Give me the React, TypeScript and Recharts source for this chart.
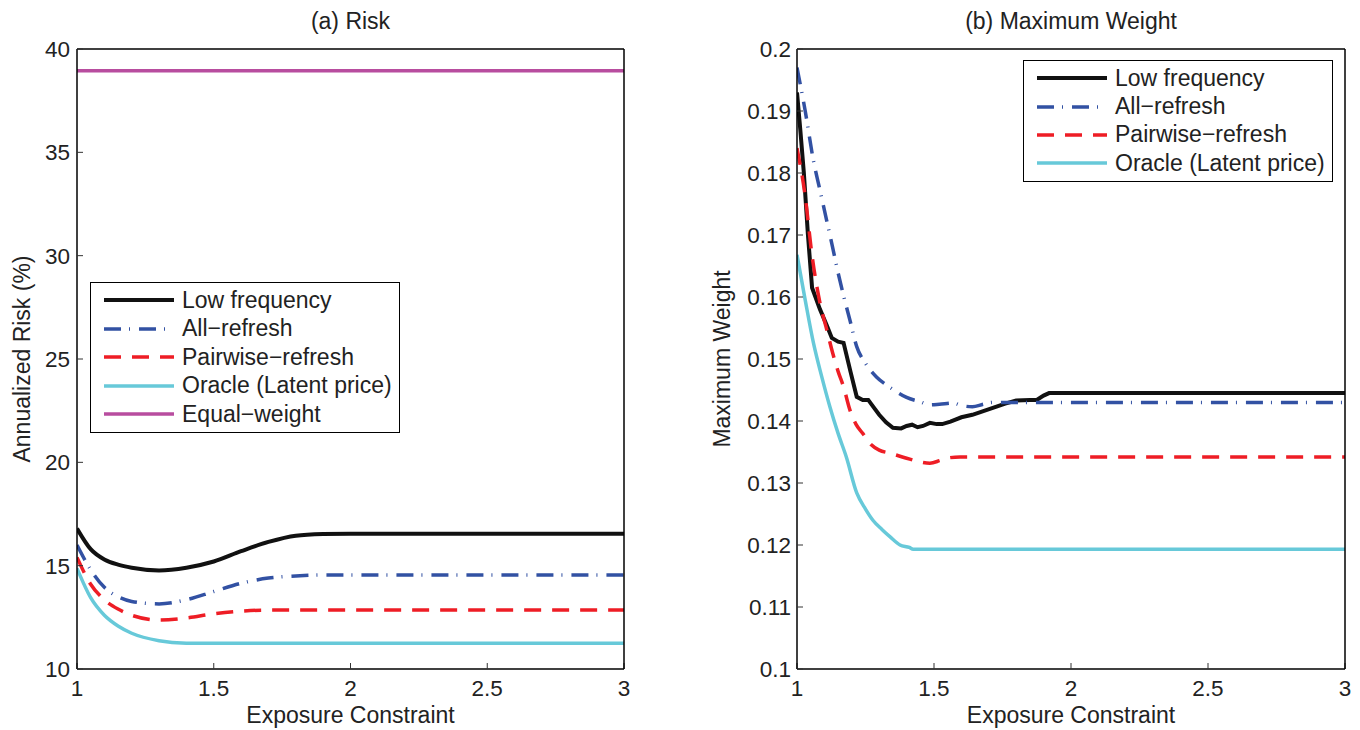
import { LineChart, Line, XAxis, YAxis, Legend, Label } from 'recharts';

const FONT = '"Liberation Sans", Arial, Helvetica, sans-serif';

// shared x axis
const xTicks = [1, 1.5, 2, 2.5, 3];
const xTickLabels = ['1', '1.5', '2', '2.5', '3'];

// (a) Risk
const riskTicks = [10, 15, 20, 25, 30, 35, 40];
const riskTickLabels = ['10', '15', '20', '25', '30', '35', '40'];
const riskX = [1, 1.05, 1.1, 1.15, 1.2, 1.3, 1.4, 1.5, 1.6, 1.7, 1.8, 1.9, 2, 2.5, 3];
const riskLow = [16.8, 15.8, 15.3, 15.05, 14.9, 14.77, 14.9, 15.2, 15.7, 16.15, 16.45, 16.53, 16.55, 16.55, 16.55];
const riskAll = [16.0, 14.8, 13.95, 13.5, 13.27, 13.15, 13.35, 13.75, 14.15, 14.4, 14.5, 14.55, 14.55, 14.55, 14.55];
const riskPair = [15.4, 14.1, 13.35, 12.9, 12.6, 12.37, 12.47, 12.67, 12.8, 12.85, 12.85, 12.85, 12.85, 12.85, 12.85];
const riskOracle = [14.87, 13.45, 12.6, 12.08, 11.73, 11.37, 11.25, 11.24, 11.24, 11.24, 11.24, 11.24, 11.24, 11.24, 11.24];
const equalX = [1, 3];
const riskEqual = [38.95, 38.95];

// (b) Maximum Weight
const weightTicks = [0.1, 0.11, 0.12, 0.13, 0.14, 0.15, 0.16, 0.17, 0.18, 0.19, 0.2];
const weightTickLabels = ['0.1', '0.11', '0.12', '0.13', '0.14', '0.15', '0.16', '0.17', '0.18', '0.19', '0.2'];
const wLowX = [1.0, 1.012, 1.025, 1.04, 1.055, 1.084, 1.11, 1.127, 1.15, 1.17, 1.195, 1.218, 1.24, 1.26, 1.28, 1.3, 1.325, 1.35, 1.38, 1.4, 1.42, 1.44, 1.46, 1.485, 1.51, 1.53, 1.56, 1.6, 1.64, 1.68, 1.72, 1.76, 1.8, 1.85, 1.875, 1.9, 1.92, 3.0];
const wLow = [0.193, 0.187, 0.18, 0.17, 0.1615, 0.158, 0.1553, 0.1534, 0.1528, 0.1526, 0.148, 0.1439, 0.1434, 0.1434, 0.1422, 0.141, 0.1398, 0.1389, 0.1388, 0.1392, 0.1394, 0.139, 0.1392, 0.1397, 0.1395, 0.1395, 0.1399, 0.1406, 0.141, 0.1416, 0.1422, 0.1428, 0.1433, 0.1434, 0.1434, 0.1441, 0.1445, 0.1445];
const wAllX = [1.0, 1.03, 1.06, 1.085, 1.108, 1.13, 1.15, 1.17, 1.193, 1.218, 1.25, 1.29, 1.33, 1.364, 1.4, 1.45, 1.485, 1.52, 1.57, 1.6, 1.64, 1.68, 1.716, 3.0];
const wAll = [0.197, 0.19, 0.182, 0.177, 0.1724, 0.168, 0.1639, 0.1602, 0.1563, 0.152, 0.1493, 0.1471, 0.1457, 0.1447, 0.1438, 0.1431, 0.1426, 0.1427, 0.1429, 0.1425, 0.1423, 0.1427, 0.143, 0.143];
const wPairX = [1.0, 1.03, 1.054, 1.084, 1.11, 1.13, 1.15, 1.17, 1.193, 1.215, 1.24, 1.27, 1.3, 1.34, 1.4, 1.44, 1.485, 1.52, 1.546, 1.595, 3.0];
const wPair = [0.184, 0.1762, 0.167, 0.159, 0.1545, 0.151, 0.148, 0.1455, 0.1418, 0.1395, 0.138, 0.1362, 0.1353, 0.1348, 0.134, 0.1335, 0.1332, 0.1336, 0.134, 0.1342, 0.1342];
const wOracleX = [1.0, 1.03, 1.06, 1.09, 1.12, 1.15, 1.18, 1.218, 1.25, 1.277, 1.31, 1.34, 1.376, 1.41, 1.424, 3.0];
const wOracle = [0.1668, 0.1595, 0.1526, 0.1472, 0.1423, 0.138, 0.1342, 0.1284, 0.1258, 0.124, 0.1225, 0.1213, 0.12, 0.1196, 0.1193, 0.1193];

const pts = (xs: number[], ys: number[]) => xs.map((x, i) => ({ x, y: ys[i] }));

// line styles
const LOW = { name: 'Low frequency', color: '#111111', width: 4, dash: undefined as string | undefined };
const ALL = { name: 'All\u2212refresh', color: '#3251a3', width: 3.5, dash: '17 8 1 9' };
const PAIR = { name: 'Pairwise\u2212refresh', color: '#ee1d25', width: 3.5, dash: '17 11' };
const ORACLE = { name: 'Oracle (Latent price)', color: '#67c9d9', width: 3.5, dash: undefined as string | undefined };
const EQUAL = { name: 'Equal\u2212weight', color: '#b84d9f', width: 3.5, dash: undefined as string | undefined };

type Series = typeof LOW & { data: { x: number; y: number }[]; curve: 'monotone' | 'linear' };

const riskSeries: Series[] = [
    { ...LOW, data: pts(riskX, riskLow), curve: 'monotone' },
    { ...ALL, data: pts(riskX, riskAll), curve: 'monotone' },
    { ...PAIR, data: pts(riskX, riskPair), curve: 'monotone' },
    { ...ORACLE, data: pts(riskX, riskOracle), curve: 'monotone' },
    { ...EQUAL, data: pts(equalX, riskEqual), curve: 'linear' },
];

const weightSeries: Series[] = [
    { ...LOW, data: pts(wLowX, wLow), curve: 'linear' },
    { ...ALL, data: pts(wAllX, wAll), curve: 'monotone' },
    { ...PAIR, data: pts(wPairX, wPair), curve: 'monotone' },
    { ...ORACLE, data: pts(wOracleX, wOracle), curve: 'monotone' },
];

function LegendBox({ items, width, rowH }: { items: Series[]; width: number; rowH: number }) {
    return (
        <div
            style={{
                width,
                boxSizing: 'border-box',
                border: '1.5px solid #000',
                background: '#fff',
                padding: '3px 4px 3px 13px',
                fontFamily: FONT,
                fontSize: 23,
                color: '#222',
            }}
        >
            {items.map((s) => (
                <div key={s.name} style={{ display: 'flex', alignItems: 'center', height: rowH, whiteSpace: 'nowrap' }}>
                    <svg width={70} height={8} style={{ marginRight: 8, flex: 'none' }}>
                        <line x1={0} y1={4} x2={70} y2={4} stroke={s.color} strokeWidth={s.width} strokeDasharray={s.dash} />
                    </svg>
                    <span>{s.name}</span>
                </div>
            ))}
        </div>
    );
}

interface PanelProps {
    left: number;
    width: number;
    title: string;
    yLabel: string;
    yTicks: number[];
    yTickLabels: string[];
    yWidth: number;
    yLabelOffset: number;
    yTickMargin: number;
    margin: { top: number; right: number; left: number; bottom: number };
    series: Series[];
    legend: { left: number; top: number; width: number; rowH: number };
}

const axisLine = { stroke: '#000', strokeWidth: 1.5 };
const tickLine = { stroke: '#333', strokeWidth: 1 };
const tickText = { fill: '#222', fontSize: 22.5, fontFamily: FONT };
const labelProps = { fill: '#222', fontSize: 23, fontFamily: FONT };

function Panel(p: PanelProps) {
    const yDomain = [p.yTicks[0], p.yTicks[p.yTicks.length - 1]];
    return (
        <div style={{ position: 'absolute', left: p.left, top: 0 }}>
            <LineChart width={p.width} height={722} margin={p.margin}>
                <XAxis
                    xAxisId="b"
                    dataKey="x"
                    type="number"
                    domain={[1, 3]}
                    ticks={xTicks}
                    tickFormatter={(v: number, i: number) => xTickLabels[i] ?? String(v)}
                    height={61}
                    tickSize={-6}
                    tickMargin={17}
                    axisLine={axisLine}
                    tickLine={tickLine}
                    tick={tickText}
                    allowDataOverflow
                >
                    <Label value="Exposure Constraint" position="insideBottom" offset={7} {...labelProps} />
                </XAxis>
                <XAxis
                    xAxisId="t"
                    orientation="top"
                    dataKey="x"
                    type="number"
                    domain={[1, 3]}
                    ticks={xTicks}
                    height={1}
                    tickSize={-6}
                    axisLine={axisLine}
                    tickLine={tickLine}
                    tick={false}
                    allowDataOverflow
                >
                    <Label value={p.title} position="top" offset={19} {...labelProps} />
                </XAxis>
                <YAxis
                    yAxisId="l"
                    type="number"
                    domain={yDomain}
                    ticks={p.yTicks}
                    tickFormatter={(v: number, i: number) => p.yTickLabels[i] ?? String(v)}
                    width={p.yWidth}
                    tickSize={-6}
                    tickMargin={p.yTickMargin}
                    axisLine={axisLine}
                    tickLine={tickLine}
                    tick={tickText}
                    interval={0}
                    allowDataOverflow
                >
                    <Label
                        value={p.yLabel}
                        angle={-90}
                        position="insideLeft"
                        offset={p.yLabelOffset}
                        style={{ textAnchor: 'middle' }}
                        {...labelProps}
                    />
                </YAxis>
                <YAxis
                    yAxisId="r"
                    orientation="right"
                    type="number"
                    domain={yDomain}
                    ticks={p.yTicks}
                    width={1}
                    tickSize={-6}
                    axisLine={axisLine}
                    tickLine={tickLine}
                    tick={false}
                    interval={0}
                    allowDataOverflow
                />
                <Legend
                    layout="vertical"
                    align="center"
                    verticalAlign="middle"
                    wrapperStyle={{ left: p.legend.left, top: p.legend.top, width: p.legend.width }}
                    content={() => <LegendBox items={p.series} width={p.legend.width} rowH={p.legend.rowH} />}
                />
                {p.series.map((s) => (
                    <Line
                        key={s.name}
                        xAxisId="b"
                        yAxisId="l"
                        data={s.data}
                        dataKey="y"
                        name={s.name}
                        type={s.curve}
                        stroke={s.color}
                        strokeWidth={s.width}
                        strokeDasharray={s.dash}
                        dot={false}
                        activeDot={false}
                        isAnimationActive={false}
                    />
                ))}
            </LineChart>
        </div>
    );
}

export default function App() {
    return (
        <div style={{ position: 'relative', width: 1344, height: 722, background: '#fff' }}>
            <Panel
                left={0}
                width={672}
                title="(a) Risk"
                yLabel="Annualized Risk (%)"
                yTicks={riskTicks}
                yTickLabels={riskTickLabels}
                yWidth={60}
                yLabelOffset={5}
                yTickMargin={13}
                margin={{ top: 40, right: 55, left: 9, bottom: 0 }}
                series={riskSeries}
                legend={{ left: 82, top: 274, width: 310, rowH: 28.5 }}
            />
            <Panel
                left={682}
                width={668}
                title="(b) Maximum Weight"
                yLabel="Maximum Weight"
                yTicks={weightTicks}
                yTickLabels={weightTickLabels}
                yWidth={90}
                yLabelOffset={15}
                yTickMargin={12}
                margin={{ top: 40, right: 12, left: 17, bottom: 0 }}
                series={weightSeries}
                legend={{ left: 333, top: 52, width: 310, rowH: 28.4 }}
            />
        </div>
    );
}
